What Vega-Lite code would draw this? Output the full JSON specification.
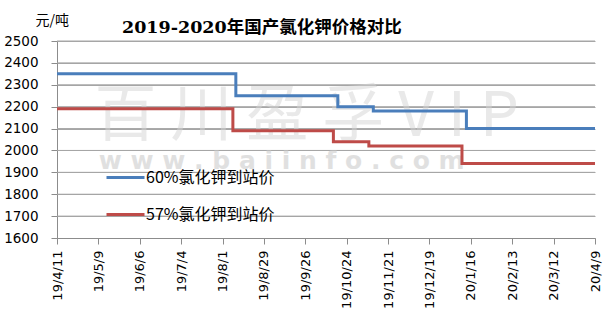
{
  "$schema": "https://vega.github.io/schema/vega-lite/v6.json",
  "width": 538,
  "height": 197,
  "autosize": "none",
  "padding": {"left": 57, "top": 41, "right": 19, "bottom": 78},
  "background": "white",
  "title": {
    "text": "2019-2020年国产氯化钾价格对比",
    "font": "DejaVu Serif, Noto Sans CJK SC",
    "fontSize": 17.5,
    "fontWeight": "bold",
    "color": "black",
    "anchor": "start",
    "frame": "group",
    "dx": 65,
    "offset": -23
  },
  "config": {
    "view": {"stroke": null},
    "axis": {
      "labelFont": "DejaVu Sans",
      "labelFontSize": 13,
      "labelColor": "black",
      "labelOverlap": false,
      "domainColor": "#8c8c8c",
      "tickColor": "#8c8c8c",
      "gridColor": "#a6a6a6",
      "gridWidth": 1
    }
  },
  "encoding": {
    "x": {
      "field": "date",
      "type": "temporal",
      "scale": {
        "domain": [{"year": 2019, "month": 4, "date": 11}, {"year": 2020, "month": 4, "date": 9}],
        "nice": false
      },
      "axis": {
        "title": null,
        "grid": false,
        "format": "%y/%-m/%-d",
        "labelAngle": -90,
        "tickSize": 6,
        "labelPadding": 6,
        "values": [
          {"year": 2019, "month": 4, "date": 11},
          {"year": 2019, "month": 5, "date": 9},
          {"year": 2019, "month": 6, "date": 6},
          {"year": 2019, "month": 7, "date": 4},
          {"year": 2019, "month": 8, "date": 1},
          {"year": 2019, "month": 8, "date": 29},
          {"year": 2019, "month": 9, "date": 26},
          {"year": 2019, "month": 10, "date": 24},
          {"year": 2019, "month": 11, "date": 21},
          {"year": 2019, "month": 12, "date": 19},
          {"year": 2020, "month": 1, "date": 16},
          {"year": 2020, "month": 2, "date": 13},
          {"year": 2020, "month": 3, "date": 12},
          {"year": 2020, "month": 4, "date": 9}
        ]
      }
    },
    "y": {
      "field": "price",
      "type": "quantitative",
      "scale": {"domain": [1600, 2500], "nice": false, "zero": false},
      "axis": {
        "grid": true,
        "values": [1600, 1700, 1800, 1900, 2000, 2100, 2200, 2300, 2400, 2500],
        "format": "d",
        "tickSize": 6,
        "labelPadding": 13,
        "labelFontSize": 13.5,
        "title": "元/吨",
        "titleAngle": 0,
        "titleX": -22,
        "titleY": -17,
        "titleAlign": "left",
        "titleBaseline": "alphabetic",
        "titleFont": "Noto Sans CJK SC",
        "titleFontSize": 14,
        "titleFontWeight": "normal",
        "titleColor": "black"
      }
    }
  },
  "layer": [
    {
      "data": {
        "values": [
          {"price": 1700, "date": "2019/04/11", "end": "2020/04/09"},
          {"price": 1800, "date": "2019/04/11", "end": "2020/04/09"},
          {"price": 1900, "date": "2019/04/11", "end": "2020/04/09"},
          {"price": 2000, "date": "2019/04/11", "end": "2020/04/09"},
          {"price": 2100, "date": "2019/04/11", "end": "2020/04/09"},
          {"price": 2200, "date": "2019/04/11", "end": "2020/04/09"},
          {"price": 2300, "date": "2019/04/11", "end": "2020/04/09"},
          {"price": 2400, "date": "2019/04/11", "end": "2020/04/09"},
          {"price": 2500, "date": "2019/04/11", "end": "2020/04/09"}
        ]
      },
      "mark": {"type": "rule", "color": "#a6a6a6", "strokeWidth": 1},
      "encoding": {"x2": {"field": "end"}}
    },
    {
      "data": {"values": [{"date": "2019/09/27", "price": 2151, "label": "百 川 盈 孚  V I P"}]},
      "mark": {"type": "text", "font": "Noto Sans CJK SC", "fontSize": 62, "color": "#d4d4d4", "opacity": 0.5, "baseline": "middle", "align": "center"},
      "encoding": {"text": {"field": "label"}}
    },
    {
      "data": {"values": [{"date": "2019/09/10", "price": 1950, "label": "w w w . b a i i n f o . c o m"}]},
      "mark": {"type": "text", "font": "DejaVu Sans", "fontWeight": "bold", "fontSize": 25, "color": "#c8c8c8", "opacity": 0.55, "baseline": "middle", "align": "center"},
      "encoding": {"text": {"field": "label"}}
    },
    {
      "data": {
        "values": [
          {"date": "2019/04/11", "price": 2350, "series": "60%氯化钾到站价"},
          {"date": "2019/08/10", "price": 2250, "series": "60%氯化钾到站价"},
          {"date": "2019/10/18", "price": 2200, "series": "60%氯化钾到站价"},
          {"date": "2019/11/11", "price": 2180, "series": "60%氯化钾到站价"},
          {"date": "2020/01/13", "price": 2100, "series": "60%氯化钾到站价"},
          {"date": "2020/04/09", "price": 2100, "series": "60%氯化钾到站价"},
          {"date": "2019/04/11", "price": 2190, "series": "57%氯化钾到站价"},
          {"date": "2019/08/08", "price": 2090, "series": "57%氯化钾到站价"},
          {"date": "2019/10/15", "price": 2040, "series": "57%氯化钾到站价"},
          {"date": "2019/11/08", "price": 2020, "series": "57%氯化钾到站价"},
          {"date": "2020/01/10", "price": 1940, "series": "57%氯化钾到站价"},
          {"date": "2020/04/09", "price": 1940, "series": "57%氯化钾到站价"}
        ]
      },
      "mark": {"type": "line", "interpolate": "step-after", "strokeWidth": 3},
      "encoding": {
        "color": {
          "field": "series",
          "type": "nominal",
          "scale": {
            "domain": ["60%氯化钾到站价", "57%氯化钾到站价"],
            "range": ["#4a7ebb", "#be4b48"]
          },
          "legend": {
            "orient": "none",
            "legendX": 48,
            "legendY": 116,
            "title": null,
            "padding": 0,
            "symbolType": "stroke",
            "symbolSize": 1444,
            "symbolStrokeWidth": 3,
            "labelFont": "Noto Sans CJK SC",
            "labelFontSize": 16,
            "labelColor": "black",
            "labelOffset": 0,
            "rowPadding": 8
          }
        }
      }
    }
  ]
}
